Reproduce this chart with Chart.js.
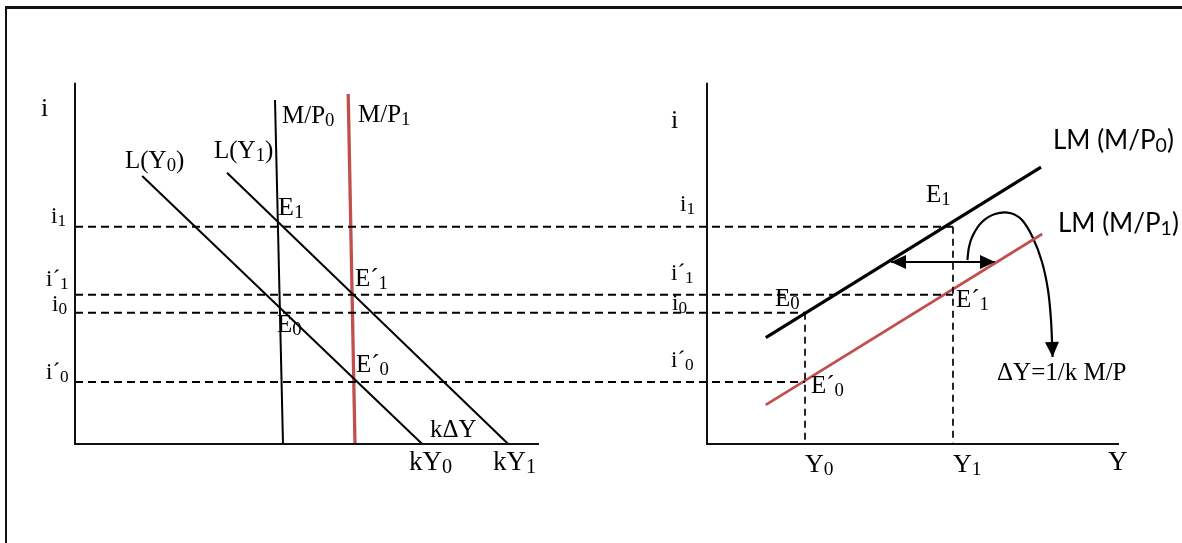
<!DOCTYPE html>
<html><head><meta charset="utf-8">
<script src="https://cdn.jsdelivr.net/npm/chart.js@4/dist/chart.umd.min.js"></script>
<style>
html,body{margin:0;padding:0;background:#fff;}
#wrap{position:relative;width:1182px;height:543px;overflow:hidden;}
#frame{position:absolute;left:5px;top:6px;width:1300px;height:700px;border-left:2px solid #111;border-top:3px solid #111;pointer-events:none;}
canvas{position:absolute;left:0;top:0;}
</style></head><body>
<div id="wrap"><canvas id="c" width="1182" height="543"></canvas><div id="frame"></div></div>
<script>
// ---- values (diagram units) ----
// shared vertical axis: interest-rate levels i1, i'1, i0, i'0
const rateNames  = ['i_1', 'i´_1', 'i_0', 'i´_0'];
const rateLevels = [5.43, 3.73, 3.28, 1.55];
// output levels on the right panel: Y0, Y1
const outputNames  = ['Y_0', 'Y_1'];
const outputLevels = [18.25, 21.95];
// which output level each rate guide runs to (index into outputLevels)
const rateGuideEnd = [1, 1, 0, 0];
// axis extents
const leftAxisX  = [0, 11.6];
const rightAxisX = [15.8, 26.1];
const axisTop    = 9.03;
// left panel (money market): [x, i]
const moneyP0  = [[5.0, 8.6], [5.2, 0]];
const moneyP1  = [[6.83, 8.75], [7.0, 0]];
const demandY0 = [[1.68, 6.7], [8.68, 0]];
const demandY1 = [[3.8, 6.78], [10.83, 0]];
// right panel (LM curves): [Y, i]
const lmP0 = [[17.27, 2.66], [24.15, 6.92]];
const lmP1 = [[17.27, 0.98], [24.18, 5.25]];
// shift arrow and curved pointer
const shiftArrow  = [[20.4, 4.55], [23.0, 4.55]];
const pointerPath = [[22.31, 4.6], [22.35, 4.925], [22.45, 5.225], [22.675, 5.55], [23.0, 5.75], [23.375, 5.775],
                     [23.675, 5.6], [23.95, 5.15], [24.175, 4.55], [24.325, 3.85], [24.4, 3.1], [24.44, 2.175]];

// ---- labels (anchor in diagram units) ----
const SERIF = '"Liberation Serif", "Times New Roman", serif';
const SANS  = 'Lato, "Open Sans", sans-serif';
const annotations = [
  {t: 'i', x: -0.85, y: 8.2, s: 26, f: SERIF},
  {t: 'M/P_0', x: 5.175, y: 8.025, s: 25, f: SERIF},
  {t: 'M/P_1', x: 7.075, y: 8.05, s: 25, f: SERIF},
  {t: 'L(Y_0)', x: 1.25, y: 6.9, s: 25, f: SERIF},
  {t: 'L(Y_1)', x: 3.475, y: 7.15, s: 25, f: SERIF},
  {t: 'E_1', x: 5.075, y: 5.725, s: 26, f: SERIF},
  {t: 'E´_1', x: 7.0, y: 3.95, s: 25, f: SERIF},
  {t: 'E_0', x: 5.05, y: 2.8, s: 25, f: SERIF},
  {t: 'E´_0', x: 7.025, y: 1.8, s: 25, f: SERIF},
  {t: rateNames[0], x: -0.6, y: 5.525, s: 23, f: SERIF},
  {t: rateNames[1], x: -0.725, y: 3.95, s: 23, f: SERIF},
  {t: rateNames[2], x: -0.575, y: 3.325, s: 23, f: SERIF},
  {t: rateNames[3], x: -0.725, y: 1.625, s: 23, f: SERIF},
  {t: 'kΔY', x: 8.875, y: 0.175, s: 25, f: SERIF},
  {t: 'kY_0', x: 8.35, y: -0.65, s: 27, f: SERIF},
  {t: 'kY_1', x: 10.45, y: -0.65, s: 27, f: SERIF},
  {t: 'i', x: 14.9, y: 7.9, s: 26, f: SERIF},
  {t: rateNames[0], x: 15.125, y: 5.825, s: 23, f: SERIF},
  {t: rateNames[1], x: 14.9, y: 4.1, s: 23, f: SERIF},
  {t: rateNames[2], x: 14.925, y: 3.35, s: 23, f: SERIF},
  {t: rateNames[3], x: 14.9, y: 1.925, s: 23, f: SERIF},
  {t: 'E_0', x: 17.5, y: 3.45, s: 25, f: SERIF},
  {t: 'E´_0', x: 18.4, y: 1.275, s: 25, f: SERIF},
  {t: 'E_1', x: 21.275, y: 6.05, s: 25, f: SERIF},
  {t: 'E´_1', x: 22.025, y: 3.425, s: 25, f: SERIF},
  {t: 'LM (M/P_0)', x: 24.45, y: 7.375, s: 26, f: SANS},
  {t: 'LM (M/P_1)', x: 24.575, y: 5.3, s: 26, f: SANS},
  {t: 'ΔY=1/k M/P', x: 23.05, y: 1.6, s: 25, f: SERIF},
  {t: outputNames[0], x: 18.25, y: -0.7, s: 26, f: SERIF},
  {t: outputNames[1], x: 21.95, y: -0.7, s: 26, f: SERIF},
  {t: 'Y', x: 25.825, y: -0.65, s: 27, f: SERIF}
];

const RED = '#c0504d';
const BLACK = '#000';
const pts = arr => arr.map(p => ({x: p[0], y: p[1]}));

function line(data, color, width, extra) {
  return Object.assign({data: pts(data), showLine: true, borderColor: color, backgroundColor: color,
    borderWidth: width, pointRadius: 0, pointHoverRadius: 0, tension: 0, fill: false,
    borderCapStyle: 'butt', borderJoinStyle: 'miter'}, extra || {});
}

const datasets = [];
// axes
datasets.push(line([[leftAxisX[0], axisTop], [leftAxisX[0], 0], [leftAxisX[1], 0]], '#111', 2));
datasets.push(line([[rightAxisX[0], axisTop], [rightAxisX[0], 0], [rightAxisX[1], 0]], '#111', 2));
// horizontal rate guides
rateLevels.forEach((r, k) => {
  datasets.push(line([[leftAxisX[0], r], [outputLevels[rateGuideEnd[k]], r]], BLACK, 2, {borderDash: [8, 5]}));
});
// vertical output guides
datasets.push(line([[outputLevels[0], rateLevels[2]], [outputLevels[0], 0]], BLACK, 1.7, {borderDash: [7, 5]}));
datasets.push(line([[outputLevels[1], rateLevels[0]], [outputLevels[1], 0]], BLACK, 1.7, {borderDash: [7, 5]}));
// money market
datasets.push(line(demandY0, BLACK, 2));
datasets.push(line(demandY1, BLACK, 2));
datasets.push(line(moneyP0, BLACK, 2));
datasets.push(line(moneyP1, RED, 3.3));
// LM curves
datasets.push(line(lmP0, BLACK, 3.2));
datasets.push(line(lmP1, RED, 2.7));
// arrows
datasets.push(line(shiftArrow, BLACK, 2.2, {arrowStart: true, arrowEnd: true}));
datasets.push(line(pointerPath, BLACK, 2.2, {tension: 0.35, arrowEnd: true}));

function drawRich(ctx, text, x, y, size, family) {
  const parts = [];
  for (let k = 0; k < text.length; k++) {
    if (text[k] === '_' && k + 1 < text.length) { parts.push({t: text[k + 1], sub: true}); k++; }
    else if (parts.length && !parts[parts.length - 1].sub) parts[parts.length - 1].t += text[k];
    else parts.push({t: text[k], sub: false});
  }
  let cx = x;
  for (const p of parts) {
    const s = p.sub ? size * 0.75 : size;
    ctx.font = s + 'px ' + family;
    ctx.fillText(p.t, cx, p.sub ? y + size * 0.12 : y);
    cx += ctx.measureText(p.t).width;
  }
}

const arrowPlugin = {
  id: 'arrows',
  afterDatasetsDraw(chart) {
    const ctx = chart.ctx;
    chart.data.datasets.forEach((ds, i) => {
      if (!ds.arrowStart && !ds.arrowEnd) return;
      const el = chart.getDatasetMeta(i).data;
      const head = (tip, from) => {
        const dx = tip.x - from.x, dy = tip.y - from.y, L = Math.hypot(dx, dy);
        const ux = dx / L, uy = dy / L, len = 15, hw = 7;
        const bx = tip.x - ux * len, by = tip.y - uy * len;
        ctx.beginPath();
        ctx.moveTo(tip.x, tip.y);
        ctx.lineTo(bx - uy * hw, by + ux * hw);
        ctx.lineTo(bx + uy * hw, by - ux * hw);
        ctx.closePath();
        ctx.fillStyle = ds.borderColor;
        ctx.fill();
      };
      ctx.save();
      if (ds.arrowEnd) head(el[el.length - 1], el[el.length - 2]);
      if (ds.arrowStart) head(el[0], el[1]);
      ctx.restore();
    });
  }
};

const labelPlugin = {
  id: 'labels',
  afterDatasetsDraw(chart) {
    const ctx = chart.ctx, xs = chart.scales.x, ys = chart.scales.y;
    ctx.save();
    ctx.fillStyle = '#000';
    ctx.textBaseline = 'alphabetic';
    ctx.textAlign = 'left';
    annotations.forEach(a => drawRich(ctx, a.t, xs.getPixelForValue(a.x), ys.getPixelForValue(a.y), a.s, a.f));
    ctx.restore();
  }
};

new Chart(document.getElementById('c'), {
  type: 'scatter',
  data: {datasets},
  options: {
    responsive: false, animation: false, devicePixelRatio: 1,
    layout: {padding: 0},
    events: [],
    plugins: {legend: {display: false}, tooltip: {enabled: false}},
    scales: {
      x: {type: 'linear', display: false, min: -1.875, max: 27.675},
      y: {type: 'linear', display: false, min: -2.475, max: 11.1}
    }
  },
  plugins: [arrowPlugin, labelPlugin]
});
</script>
</body></html>
